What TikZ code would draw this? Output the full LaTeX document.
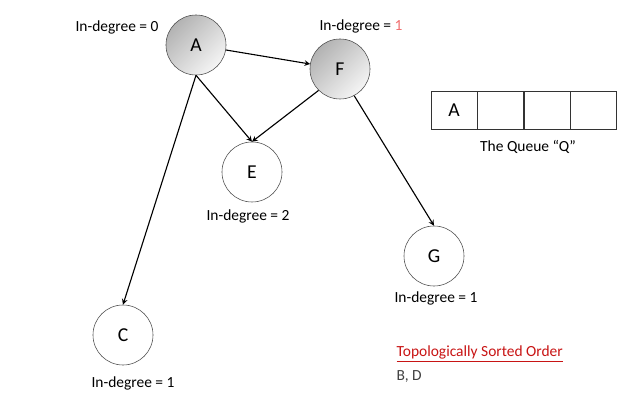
\documentclass[tikz,border=0pt]{standalone}
\usepackage{fontspec}
\setmainfont{Carlito}
\usetikzlibrary{arrows, positioning}
\definecolor{sortred}{RGB}{200,20,20}
\definecolor{degred}{RGB}{240,110,110}
\tikzstyle{vertex} = [circle, minimum size=1.5cm, inner sep=0pt, draw=black!70, fill=white, font=\fontsize{14}{16}\selectfont]
\tikzstyle{visited} = [vertex, top color=gray!60, bottom color=gray!8, shading angle=45]
\tikzstyle{deg} = [font=\fontsize{11}{13}\selectfont, inner sep=1pt]
\tikzstyle{cell} = [rectangle, draw=black!80, minimum width=1.15cm, minimum height=0.95cm, inner sep=0pt, font=\fontsize{14}{16}\selectfont]
\tikzstyle{arrow} = [thick,->,>=stealth]

\begin{document}
\begin{tikzpicture}[x=0.025cm, y=-0.025cm]
		\useasboundingbox (0,0) rectangle (640,400);
		% vertices
		\node (A) [visited] at (196,45) {A};
		\node (F) [visited] at (340,69) {F};
		\node (E) [vertex] at (252,172) {E};
		\node (G) [vertex] at (434,256) {G};
		\node (C) [vertex] at (123,335) {C};
		% in-degree labels
		\node (degA) [deg] at (117,27) {In-degree = 0};
		\node (degF) [deg] at (361,26) {In-degree = \textcolor{degred}{1}};
		\node (degE) [deg] at (248,216) {In-degree = 2};
		\node (degG) [deg] at (436,298) {In-degree = 1};
		\node (degC) [deg] at (133,383) {In-degree = 1};
		% edges
		\draw [arrow] (A) -- (F);
		\draw [arrow] (A.south) -- (E.north);
		\draw [arrow] (A.south) -- (C.north);
		\draw [arrow] (F.225) -- (E.north);
		\draw [arrow] (F.-62) -- (G.north);
		% the queue
		\node (q1) [cell] at (454,110) {A};
		\node (q2) [cell, right=0pt of q1] {};
		\node (q3) [cell, right=0pt of q2] {};
		\node (q4) [cell, right=0pt of q3] {};
		\node (qlabel) [deg] at (528,147) {The Queue “Q”};
		% sorted order
		\node (sorted) [deg, anchor=west, text=sortred] at (395,354) {\underline{Topologically Sorted Order}};
		\node (order) [deg, anchor=west, text=black!75] at (395,377) {B, D};
	\end{tikzpicture}
\end{document}
